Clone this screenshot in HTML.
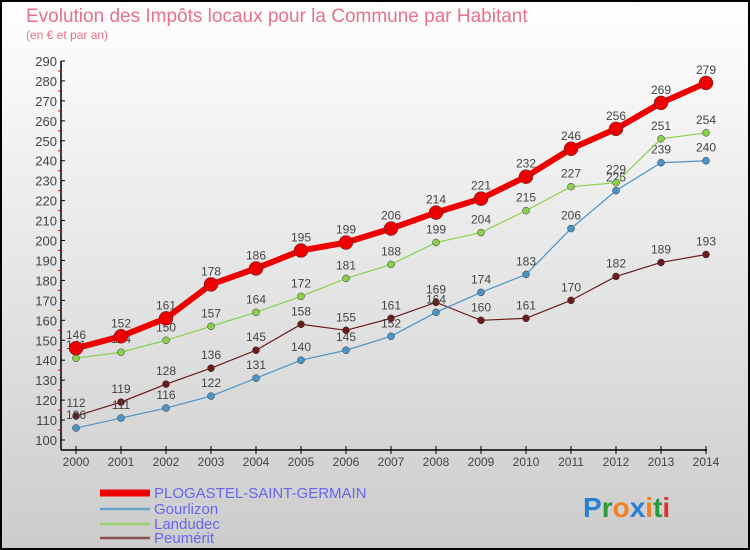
<!DOCTYPE html>
<html><head><meta charset="utf-8"><style>
body{margin:0;}
#c{width:750px;height:550px;position:relative;overflow:hidden;font-family:"Liberation Sans",sans-serif;}
</style></head><body>
<div id="c">
<svg id="s" width="750" height="550" xmlns="http://www.w3.org/2000/svg">
<defs><linearGradient id="bg" x1="0" y1="0" x2="0" y2="1"><stop offset="0" stop-color="#ffffff"/><stop offset="1" stop-color="#cccccc"/></linearGradient></defs>
<rect x="1" y="1" width="748" height="548" fill="url(#bg)" stroke="#000" stroke-width="2"/>
<text x="26" y="22" font-size="19" fill="#e8708a">Evolution des Impôts locaux pour la Commune par Habitant</text>
<text x="26" y="39" font-size="12" fill="#e8708a">(en € et par an)</text>
<g id="axes"></g><g id="series"></g><g id="legend"></g>
<text x="583" y="517" font-size="28" font-weight="bold"><tspan fill="#2a7fd4">P</tspan><tspan fill="#2a9a3a">r</tspan><tspan fill="#f08020">o</tspan><tspan fill="#2a7fd4">x</tspan><tspan fill="#f08020">i</tspan><tspan fill="#2a9a3a">t</tspan><tspan fill="#e03030">i</tspan></text>
</svg></div>
<script>
const years=[2000,2001,2002,2003,2004,2005,2006,2007,2008,2009,2010,2011,2012,2013,2014];
const plogastel=[146,152,161,178,186,195,199,206,214,221,232,246,256,269,279];
const gourlizon=[106,111,116,122,131,140,145,152,164,174,183,206,225,239,240];
const landudec=[141,144,150,157,164,172,181,188,199,204,215,227,229,251,254];
const peumerit=[112,119,128,136,145,158,155,161,169,160,161,170,182,189,193];
const yTicks=[100,110,120,130,140,150,160,170,180,190,200,210,220,230,240,250,260,270,280,290];
const NS="http://www.w3.org/2000/svg";
const x=i=>76+i*45;
const y=v=>440-(v-100)*(379/190);
function mk(tag,attrs,parent){const e=document.createElementNS(NS,tag);for(const k in attrs)e.setAttribute(k,attrs[k]);parent.appendChild(e);return e;}
const ax=document.getElementById('axes');
let a=mk('line',{x1:61,y1:y(290),x2:61,y2:450,stroke:'#000','stroke-width':1.5},ax);


a=mk('line',{x1:61,y1:450,x2:707,y2:450,stroke:'#000','stroke-width':1.5},ax);


yTicks.forEach(v=>{
  mk('line',{x1:61,y1:y(v),x2:65,y2:y(v),stroke:'#000'},ax);
  if(v<290)mk('line',{x1:58,y1:y(v+5),x2:61,y2:y(v+5),stroke:'#e00'},ax);
  const t=mk('text',{x:57,y:y(v)+5,'font-size':13,fill:'#444','text-anchor':'end'},ax);
  t.textContent=v;
  
  
});
years.forEach((yr,i)=>{
  mk('line',{x1:x(i),y1:446,x2:x(i),y2:454,stroke:'#000'},ax);
  const t=mk('text',{x:x(i),y:466,'font-size':12,fill:'#444','text-anchor':'middle'},ax);
  t.textContent=yr;
  
  
});
const sg=document.getElementById('series');
const defs=[
 {d:peumerit,c:'#6b1a1a',w:1.2,r:3.5,n:'peumerit'},
 {d:gourlizon,c:'#4a94c8',w:1.2,r:3.5,n:'gourlizon'},
 {d:landudec,c:'#8ad04a',w:1.2,r:3.5,n:'landudec'},
 {d:plogastel,c:'#ee0000',w:6,r:7,n:'plogastel'}];
defs.forEach(s=>{
  const g=mk('g',{},sg);
  
  
  const pl=mk('polyline',{points:s.d.map((v,i)=>x(i)+','+y(v)).join(' '),fill:'none',stroke:s.c,'stroke-width':s.w},g);
  
  
  s.d.forEach((v,i)=>{
    const c=mk('circle',{cx:x(i),cy:y(v),r:s.r,fill:s.c,stroke:'#333','stroke-width':0.5},g);
    
    
    const t=mk('text',{x:x(i),y:y(v)-9,'font-size':12,fill:'#444','text-anchor':'middle'},g);
    t.textContent=v;
    
    
  });
});
const lg=document.getElementById('legend');
const leg=[['PLOGASTEL-SAINT-GERMAIN','#ee0000',7,498],['Gourlizon','#6a9fc8',2.5,514],['Landudec','#9ad070',2.5,529],['Peumérit','#8b5050',2.5,543]];
leg.forEach((l,i)=>{
  const ln=mk('line',{x1:100,y1:l[3]-5,x2:150,y2:l[3]-5,stroke:l[1],'stroke-width':l[2]},lg);
  
  
  const t=mk('text',{x:154,y:l[3],'font-size':15,fill:'#6666ee'},lg);
  t.textContent=l[0];
  
  
});
</script>
</body></html>
